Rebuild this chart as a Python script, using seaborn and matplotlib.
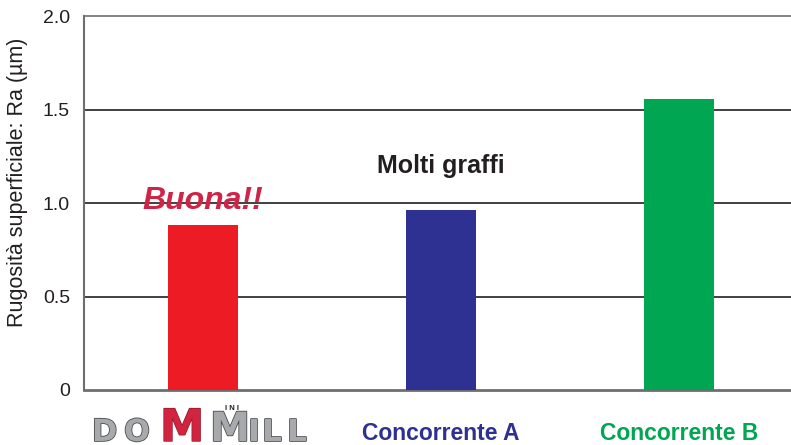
import matplotlib
matplotlib.use("Agg")
import matplotlib.pyplot as plt
import matplotlib.patheffects as pe
import seaborn as sns

# Data
categories = ["DOMiniMILL", "Concorrente A", "Concorrente B"]
roughness = [0.882, 0.963, 1.556]
bar_colors = ["#ed1c24", "#2e3192", "#00a651"]
label_colors = ["#808285", "#2e3192", "#00a651"]
y_ticks = [0, 0.5, 1.0, 1.5, 2.0]
y_tick_labels = ["0", "0.5", "1.0", "1.5", "2.0"]

sns.set_style("white")
plt.rcParams["font.family"] = ["Liberation Sans", "DejaVu Sans"]

W, H = 791, 445
fig = plt.figure(figsize=(W / 100, H / 100), dpi=100)
ax = fig.add_axes([84 / W, (H - 390) / H, (798 - 84) / W, (390 - 16) / H])

sns.barplot(x=categories, y=roughness, hue=categories, palette=bar_colors,
            width=0.29, legend=False, saturation=1, linewidth=0, ax=ax, zorder=3)

ax.set_xlim(-0.5, 2.5)
ax.set_ylim(0, 2.0)
ax.set_yticks(y_ticks)
ax.set_yticklabels(y_tick_labels, fontsize=14, color="#231f20")
for y in y_ticks[1:-1]:
    ax.axhline(y, color="#231f20", lw=1.2, zorder=1)

for side in ["left", "bottom", "top"]:
    ax.spines[side].set_color("#6d6e71")
ax.spines["left"].set_linewidth(1.5)
ax.spines["bottom"].set_linewidth(2)
ax.spines["top"].set_linewidth(1.2)
ax.spines["right"].set_visible(False)
ax.tick_params(axis="y", direction="out", length=4, color="#6d6e71", width=1, pad=6)
ax.tick_params(axis="x", length=0, pad=23)

ax.set_xticks(range(len(categories)))
ax.set_xticklabels(["", categories[1], categories[2]], fontsize=16.5, fontweight="bold")
for lbl, c in zip(ax.get_xticklabels(), label_colors):
    lbl.set_color(c)

ax.set_ylabel("Rugosità superficiale: Ra (µm)", fontsize=15.5, color="#231f20")
ax.yaxis.set_label_coords(-0.078, 0.556)

ax.text(0, 1.01, "Buona!!", ha="center", va="center", fontsize=23,
        fontweight="bold", style="italic", color="#cf2348", zorder=4)
ax.text(1, 1.20, "Molti graffi", ha="center", va="center", fontsize=18,
        fontweight="bold", color="#231f20", zorder=4)

# Logo drawn as text pieces below the first bar
outline = [pe.withStroke(linewidth=1.2, foreground="#4d4d4f")]
fy = 4 / H
logo = [("D", 92, 22, "#a7a9ac"), ("O", 124, 22, "#a7a9ac"),
        ("M", 160, 32, "#d2233f"), ("M", 210, 29, "#a7a9ac"),
        ("I", 248, 22, "#a7a9ac"), ("L", 262, 22, "#a7a9ac"), ("L", 287, 22, "#a7a9ac")]
for ch, px, size, col in logo:
    stroke = outline if col != "#d2233f" else [pe.withStroke(linewidth=1, foreground="#8b1a2b")]
    fig.text(px / W, fy, ch, fontsize=size, fontweight="bold", color=col, family="DejaVu Sans",
             ha="left", va="baseline", path_effects=stroke)
fig.text(232 / W, (H - 412) / H, "I N I", fontsize=5.5, fontweight="bold",
         color="#231f20", ha="center", va="bottom")

fig.savefig("out.png", dpi=100)
